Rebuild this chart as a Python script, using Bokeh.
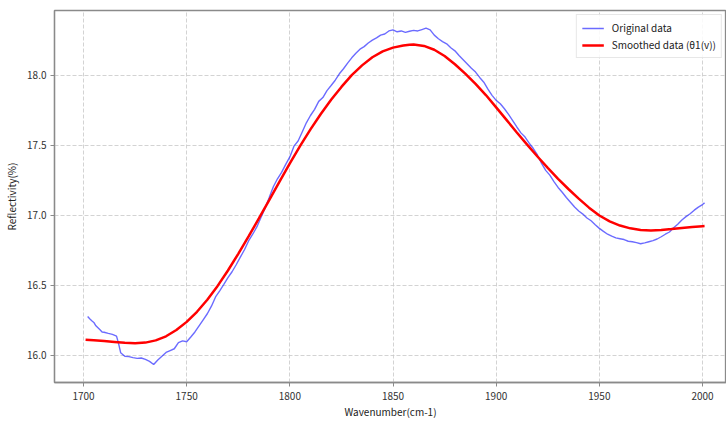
from bokeh.plotting import figure
from bokeh.models import Range1d, FixedTicker, Legend, LegendItem, CustomJSTickFormatter
from bokeh.embed import file_html
from bokeh.resources import INLINE

# Original (noisy) reflectivity data
orig_wn = [1702, 1703, 1704, 1705, 1706, 1707, 1708, 1709, 1710, 1712, 1714, 1716, 1717, 1718, 1720, 1722, 1724, 1726, 1728,
           1730, 1732, 1734, 1736, 1738, 1740, 1742, 1744, 1746, 1748, 1750, 1752, 1754, 1756, 1758,
           1760, 1762, 1764, 1766, 1768, 1770, 1772, 1774, 1776, 1778, 1780, 1782, 1784, 1786, 1788,
           1790, 1792, 1794, 1796, 1798, 1800, 1802, 1804, 1806, 1808, 1810, 1812, 1814, 1816, 1818,
           1820, 1822, 1824, 1826, 1828, 1830, 1832, 1834, 1836, 1838, 1840, 1842, 1844, 1846, 1848,
           1850, 1852, 1854, 1856, 1858, 1860, 1862, 1864, 1866, 1868, 1870, 1872, 1874, 1876, 1878,
           1880, 1882, 1884, 1886, 1888, 1890, 1892, 1894, 1896, 1898, 1900, 1902, 1904, 1906, 1908,
           1910, 1912, 1914, 1916, 1918, 1920, 1922, 1924, 1926, 1928, 1930, 1932, 1934, 1936, 1938,
           1940, 1942, 1944, 1946, 1948, 1950, 1952, 1954, 1956, 1958, 1960, 1962, 1964, 1966, 1968,
           1970, 1972, 1974, 1976, 1978, 1980, 1982, 1984, 1986, 1988, 1990, 1992, 1994, 1996, 1998,
           2000, 2001]
orig_refl = [16.278, 16.262, 16.248, 16.236, 16.212, 16.198, 16.184, 16.168, 16.166, 16.158, 16.151, 16.138, 16.085, 16.020, 15.995, 15.992, 15.985, 15.979, 15.982,
             15.972, 15.958, 15.936, 15.968, 15.995, 16.022, 16.035, 16.048, 16.092, 16.104, 16.098, 16.132, 16.168, 16.212, 16.255,
             16.298, 16.352, 16.418, 16.462, 16.508, 16.556, 16.598, 16.648, 16.702, 16.755, 16.818, 16.866, 16.918, 16.985, 17.052,
             17.128, 17.205, 17.262, 17.308, 17.365, 17.418, 17.495, 17.532, 17.596, 17.662, 17.714, 17.758, 17.815, 17.842, 17.892,
             17.928, 17.966, 18.012, 18.048, 18.088, 18.126, 18.158, 18.188, 18.206, 18.232, 18.252, 18.268, 18.288, 18.296, 18.318,
             18.326, 18.312, 18.318, 18.308, 18.316, 18.322, 18.318, 18.328, 18.338, 18.326, 18.288, 18.262, 18.242, 18.226, 18.198,
             18.176, 18.142, 18.112, 18.082, 18.052, 18.024, 17.986, 17.952, 17.902, 17.858, 17.822, 17.798, 17.762, 17.722, 17.678,
             17.632, 17.590, 17.560, 17.516, 17.478, 17.432, 17.372, 17.322, 17.288, 17.242, 17.200, 17.166, 17.128, 17.094, 17.060,
             17.032, 17.010, 16.982, 16.962, 16.934, 16.908, 16.886, 16.866, 16.852, 16.840, 16.834, 16.828, 16.816, 16.812, 16.806,
             16.798, 16.804, 16.812, 16.820, 16.832, 16.848, 16.866, 16.882, 16.912, 16.938, 16.968, 16.992, 17.012, 17.038, 17.060,
             17.078, 17.090]

# Smoothed curve
smooth_wn = [1701, 1705, 1710, 1715, 1720, 1725, 1730, 1735, 1740, 1745, 1750, 1755, 1760, 1765, 1770, 1775, 1780,
             1785, 1790, 1795, 1800, 1805, 1810, 1815, 1820, 1825, 1830, 1835, 1840, 1845, 1850, 1855,
             1858, 1860, 1865, 1870, 1875, 1880, 1885, 1890, 1895, 1900, 1905, 1910, 1915, 1920, 1925,
             1930, 1935, 1940, 1945, 1950, 1955, 1960, 1965, 1970, 1975, 1980, 1985, 1990, 1995, 2000, 2001]
smooth_refl = [16.112, 16.108, 16.103, 16.097, 16.091, 16.088, 16.092, 16.108, 16.137, 16.182, 16.240, 16.312, 16.398, 16.497, 16.607, 16.726, 16.850,
               16.979, 17.110, 17.242, 17.372, 17.497, 17.615, 17.725, 17.826, 17.918, 18.002, 18.072, 18.130, 18.172, 18.199, 18.214,
               18.220, 18.221, 18.211, 18.184, 18.139, 18.080, 18.013, 17.940, 17.860, 17.772, 17.683, 17.593, 17.506, 17.421, 17.340,
               17.262, 17.189, 17.120, 17.056, 17.000, 16.958, 16.928, 16.908, 16.897, 16.893, 16.896, 16.903, 16.911, 16.918, 16.923, 16.924]

x_ticks = [1700, 1750, 1800, 1850, 1900, 1950, 2000]
y_ticks = [16.0, 16.5, 17.0, 17.5, 18.0]

FONT = "Noto Sans CJK SC"
FRAME = "#8a8a8a"

p = figure(width=726, height=421, output_backend="svg", toolbar_location=None,
           x_range=Range1d(1685.94, 2011.63), y_range=Range1d(15.807, 18.464),
           min_border_left=54, min_border_top=10, min_border_bottom=39, min_border_right=0)

p.outline_line_color = FRAME
p.outline_line_width = 1.3

for ax in (p.xaxis[0], p.yaxis[0]):
    ax.axis_line_color = FRAME
    ax.axis_line_width = 1.3
    ax.major_tick_line_color = FRAME
    ax.major_tick_in = 0
    ax.major_tick_out = 4
    ax.minor_tick_line_color = None
    ax.major_label_text_font = FONT
    ax.major_label_text_font_size = "10px"
    ax.major_label_text_color = "#333333"
    ax.axis_label_text_font = FONT
    ax.axis_label_text_font_size = "10px"
    ax.axis_label_text_font_style = "normal"
    ax.axis_label_text_color = "#222222"

p.xaxis.ticker = FixedTicker(ticks=x_ticks)
p.yaxis.ticker = FixedTicker(ticks=y_ticks)
p.yaxis.formatter = CustomJSTickFormatter(code="return tick.toFixed(1);")
p.xaxis.axis_label = "Wavenumber(cm-1)"
p.yaxis.axis_label = "Reflectivity(%)"
p.xaxis.major_label_standoff = 5
p.xaxis.axis_label_standoff = 1
p.yaxis.major_label_standoff = 4
p.yaxis.axis_label_standoff = 5

for g in (p.xgrid[0], p.ygrid[0]):
    g.grid_line_color = "#c8c8c8"
    g.grid_line_dash = "4 2"
    g.grid_line_width = 0.9
    g.grid_line_alpha = 0.9

r1 = p.line(orig_wn, orig_refl, line_color="blue", line_alpha=0.58, line_width=1.4)
r2 = p.line(smooth_wn, smooth_refl, line_color="red", line_width=2.5)

legend = Legend(items=[LegendItem(label="Original data", renderers=[r1]),
                       LegendItem(label="Smoothed data (θ1(v))", renderers=[r2])],
                location="top_right")
legend.margin = 4
legend.padding = 5
legend.spacing = 2
legend.label_text_font = FONT
legend.label_text_font_size = "10px"
legend.label_text_color = "#222222"
legend.label_height = 14
legend.glyph_height = 14
legend.glyph_width = 22
legend.label_standoff = 8
legend.border_line_color = "#d0d0d0"
legend.border_line_width = 1
legend.background_fill_alpha = 0.85
p.add_layout(legend)

open("out.html", "w").write(file_html(p, INLINE))
